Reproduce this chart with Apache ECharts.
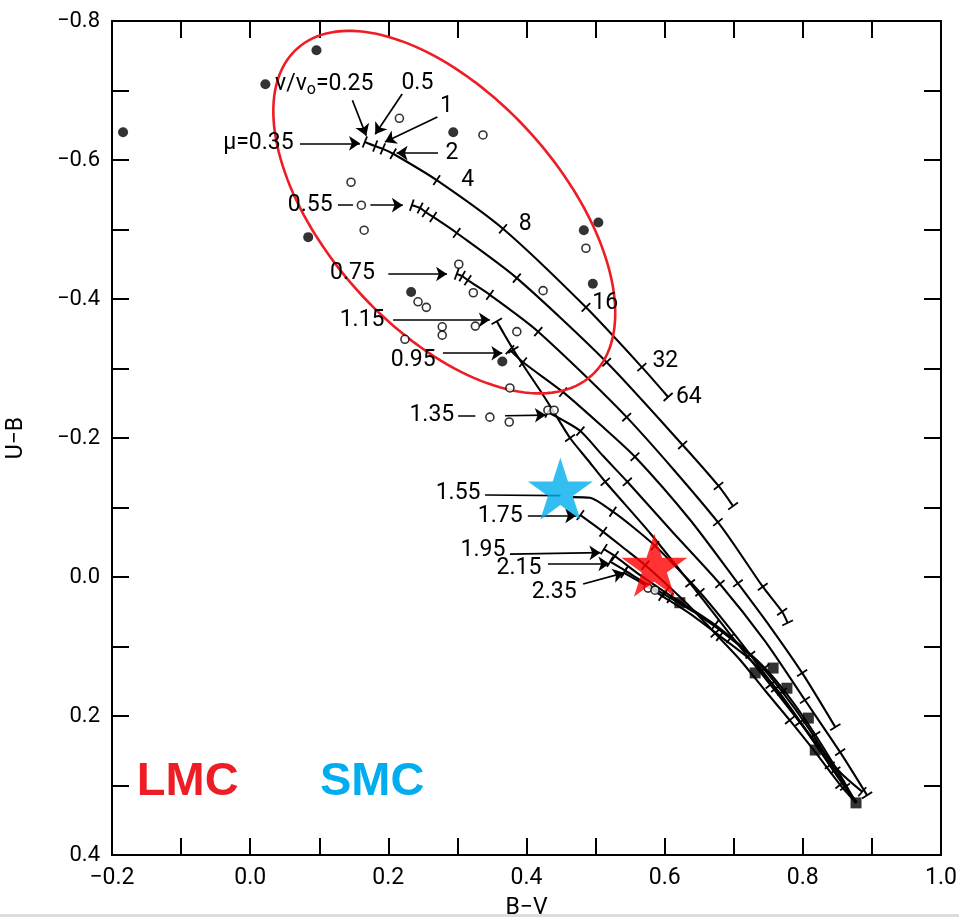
<!DOCTYPE html>
<html>
<head>
<meta charset="utf-8">
<script src="https://cdn.jsdelivr.net/npm/echarts@6/dist/echarts.min.js"></script>
<style>
  html, body { margin: 0; padding: 0; background: #fff; }
  #chart { width: 959px; height: 917px; }
</style>
</head>
<body>
<div id="chart"></div>
<script>
// Two-colour diagram (U−B against B−V): model tracks for several μ values,
// ticked at ν/ν0 = 0.25 … 64, with cluster observations.

const xTickValues = [-0.2, 0.0, 0.2, 0.4, 0.6, 0.8, 1.0];
const xTickLabels = ['−0.2', '0.0', '0.2', '0.4', '0.6', '0.8', '1.0'];
const yTickValues = [-0.8, -0.6, -0.4, -0.2, 0.0, 0.2, 0.4];
const yTickLabels = ['−0.8', '−0.6', '−0.4', '−0.2', '0.0', '0.2', '0.4'];

// Model tracks: [B−V, U−B] nodes, and which nodes carry a ν/ν0 tick
const track035 = [[0.166,-0.626],[0.181,-0.620],[0.192,-0.616],[0.207,-0.609],[0.270,-0.571],[0.366,-0.501],[0.486,-0.388],[0.567,-0.302],[0.605,-0.259]];
const track035Ticks = [0,1,2,3,4,5,6,7,8];
const track055 = [[0.234,-0.535],[0.246,-0.531],[0.254,-0.525],[0.265,-0.518],[0.299,-0.495],[0.386,-0.430],[0.516,-0.309],[0.626,-0.190],[0.678,-0.131],[0.699,-0.102]];
const track055Ticks = [0,1,2,3,4,5,6,7,8,9];
const track075 = [[0.299,-0.436],[0.307,-0.433],[0.315,-0.427],[0.347,-0.406],[0.417,-0.353],[0.545,-0.230],[0.677,-0.079],[0.742,0.014],[0.770,0.050],[0.778,0.066]];
const track075Ticks = [0,1,2,3,4,5,6,7,8,9];
const track095 = [[0.376,-0.327],[0.395,-0.309],[0.453,-0.266],[0.507,-0.219],[0.557,-0.173],[0.637,-0.082],[0.706,0.009],[0.753,0.072],[0.799,0.138],[0.847,0.216]];
const track095Ticks = [0,1,2,4,6,8,9];
const track115 = [[0.357,-0.368],[0.369,-0.347],[0.381,-0.327],[0.401,-0.296],[0.420,-0.268],[0.438,-0.240],[0.463,-0.200],[0.489,-0.168],[0.514,-0.137],[0.579,-0.063],[0.637,0.009],[0.695,0.083],[0.753,0.155],[0.810,0.227],[0.854,0.281],[0.886,0.309]];
const track115Ticks = [0,2,6,8,10,12,15];
const track135 = [[0.431,-0.237],[0.452,-0.226],[0.478,-0.210],[0.511,-0.174],[0.546,-0.137],[0.611,-0.065],[0.680,0.010],[0.745,0.092],[0.803,0.177],[0.854,0.252],[0.893,0.314]];
const track135Ticks = [0,2,4,6,8,9,10];
const track155 = [[0.467,-0.115],[0.492,-0.114],[0.525,-0.094],[0.554,-0.072],[0.586,-0.045],[0.618,-0.013],[0.651,0.022],[0.687,0.065],[0.724,0.112],[0.760,0.160],[0.796,0.209],[0.832,0.260],[0.861,0.302],[0.878,0.324]];
const track155Ticks = [2,4,6,8,10,12];
const track175 = [[0.478,-0.089],[0.511,-0.065],[0.543,-0.040],[0.572,-0.017],[0.601,0.009],[0.637,0.043],[0.673,0.081],[0.709,0.119],[0.745,0.163],[0.781,0.206],[0.818,0.252],[0.854,0.299],[0.877,0.325]];
const track175Ticks = [0,1,3,6,9,11];
const track195 = [[0.512,-0.040],[0.528,-0.030],[0.564,-0.003],[0.601,0.022],[0.637,0.045],[0.673,0.069],[0.709,0.098],[0.745,0.131],[0.781,0.174],[0.818,0.227],[0.854,0.285],[0.877,0.325]];
const track195Ticks = [0,1,3,5,7,9];
const track215 = [[0.521,-0.022],[0.543,-0.009],[0.572,0.009],[0.608,0.030],[0.651,0.056],[0.695,0.088],[0.734,0.122],[0.770,0.165],[0.808,0.217],[0.847,0.278],[0.877,0.325]];
const track215Ticks = [0,1,3,5,7,9];
const track235 = [[0.541,-0.006],[0.564,0.007],[0.596,0.027],[0.637,0.053],[0.680,0.085],[0.724,0.119],[0.761,0.160],[0.799,0.212],[0.839,0.271],[0.877,0.325]];
const track235Ticks = [0,2,4,6,8];

// Observed clusters
const filledDots = [[-0.184,-0.640],[0.096,-0.758],[0.022,-0.709],[0.294,-0.640],[0.084,-0.489],[0.483,-0.499],[0.504,-0.510],[0.496,-0.422],[0.233,-0.410],[0.365,-0.310]];
const openCircles = [[0.216,-0.660],[0.337,-0.636],[0.146,-0.568],[0.161,-0.535],[0.165,-0.499],[0.302,-0.450],[0.323,-0.409],[0.243,-0.396],[0.255,-0.388],[0.424,-0.412],[0.326,-0.361],[0.278,-0.360],[0.278,-0.348],[0.224,-0.342],[0.386,-0.353],[0.376,-0.272],[0.347,-0.230],[0.375,-0.223],[0.431,-0.240],[0.440,-0.240],[0.486,-0.473],[0.576,0.016],[0.586,0.019]];
const filledSquares = [[0.622,0.037],[0.731,0.138],[0.757,0.131],[0.777,0.160],[0.808,0.203],[0.818,0.249],[0.877,0.325]];

// Highlighted objects
const smcStar = [0.449, -0.127];
const lmcStar = [0.585, -0.017];
const regionCentre = [0.281, -0.525];

const tracks = [track035, track055, track075, track095, track115, track135,
                track155, track175, track195, track215, track235];
const trackTicks = [track035Ticks, track055Ticks, track075Ticks, track095Ticks, track115Ticks, track135Ticks,
                    track155Ticks, track175Ticks, track195Ticks, track215Ticks, track235Ticks];

// Pointer arrows from the annotations to the track starts
const arrows = [
  [[0.148,-0.686],[0.168,-0.635]],
  [[0.220,-0.695],[0.181,-0.637]],
  [[0.271,-0.662],[0.195,-0.626]],
  [[0.272,-0.610],[0.212,-0.610]],
  [[0.072,-0.624],[0.159,-0.624]],
  [[0.174,-0.535],[0.221,-0.535]],
  [[0.200,-0.436],[0.285,-0.436]],
  [[0.207,-0.370],[0.347,-0.370]],
  [[0.279,-0.322],[0.365,-0.322]],
  [[0.369,-0.232],[0.428,-0.233]],
  [[0.402,-0.088],[0.472,-0.088]],
  [[0.376,-0.033],[0.507,-0.035]],
  [[0.431,-0.019],[0.520,-0.019]],
  [[0.482,0.010],[0.541,-0.006]]
];
const leaders = [
  [[0.127,-0.535],[0.149,-0.535]],
  [[0.301,-0.232],[0.326,-0.232]],
  [[0.340,-0.118],[0.449,-0.117]]
];

// Annotation texts and their anchors
const notes = [
  { text: '{a|ν/ν}{s|o}{a|=0.25}', at: [0.036,-0.709], align: 'left' },
  { text: '0.5', at: [0.242,-0.711] },
  { text: '1', at: [0.284,-0.678] },
  { text: '2', at: [0.292,-0.610] },
  { text: '4', at: [0.315,-0.571] },
  { text: '8', at: [0.398,-0.508] },
  { text: '16', at: [0.514,-0.394] },
  { text: '32', at: [0.601,-0.311] },
  { text: '64', at: [0.635,-0.259] },
  { text: 'μ=0.35', at: [0.012,-0.624] },
  { text: '0.55', at: [0.087,-0.535] },
  { text: '0.75', at: [0.148,-0.437] },
  { text: '1.15', at: [0.162,-0.370] },
  { text: '0.95', at: [0.236,-0.312] },
  { text: '1.35', at: [0.263,-0.233] },
  { text: '1.55', at: [0.301,-0.121] },
  { text: '1.75', at: [0.362,-0.088] },
  { text: '1.95', at: [0.337,-0.039] },
  { text: '2.15', at: [0.389,-0.013] },
  { text: '2.35', at: [0.440,0.022] }
];
const cloudNames = [
  { text: 'LMC', at: [-0.164, 0.295], color: '#ee1c24' },
  { text: 'SMC', at: [0.101, 0.295], color: '#00aeef' }
];

const INK = '#000';
const FONT = 'Roboto, "DejaVu Sans", sans-serif';
const STAR = 'path://M0,-100 L22.45,-30.9 L95.1,-30.9 L36.3,11.8 L58.8,80.9 L0,38.2 L-58.8,80.9 L-36.3,11.8 L-95.1,-30.9 L-22.45,-30.9 Z';

function tickFormatter(values, labels) {
  return function (v) {
    for (let i = 0; i < values.length; i++) {
      if (Math.abs(v - values[i]) < 1e-6) return labels[i];
    }
    return '';
  };
}

function frameAxis(extra) {
  return Object.assign({
    type: 'value',
    interval: 0.1,
    axisLine: { show: true, onZero: false, lineStyle: { color: INK, width: 2 } },
    axisTick: { show: true, inside: true, length: 17, lineStyle: { color: INK, width: 2 } },
    splitLine: { show: false }
  }, extra);
}

// tick marks across each track, perpendicular to the local direction
const tickData = [];
tracks.forEach(function (pts, t) {
  trackTicks[t].forEach(function (i) {
    const a = pts[Math.max(i - 1, 0)];
    const b = pts[Math.min(i + 1, pts.length - 1)];
    tickData.push([pts[i][0], pts[i][1], a[0], a[1], b[0], b[1]]);
  });
});

const series = [];

// region outline
series.push({
  type: 'custom',
  coordinateSystem: 'cartesian2d',
  data: [regionCentre],
  z: 4,
  silent: true,
  renderItem: function (params, api) {
    const c = api.coord([api.value(0), api.value(1)]);
    const a = 220, b = 117, th = 48 * Math.PI / 180;
    const points = [];
    for (let k = 0; k <= 160; k++) {
      const t = 2 * Math.PI * k / 160;
      const ex = a * Math.cos(t), ey = b * Math.sin(t);
      points.push([c[0] + ex * Math.cos(th) - ey * Math.sin(th),
                   c[1] + ex * Math.sin(th) + ey * Math.cos(th)]);
    }
    return { type: 'polyline', shape: { points: points },
             style: { fill: null, stroke: '#ee1c24', lineWidth: 2.6 } };
  }
});

tracks.forEach(function (pts) {
  series.push({
    type: 'line',
    data: pts,
    smooth: 0.25,
    showSymbol: false,
    symbol: 'none',
    z: 3,
    lineStyle: { color: INK, width: 2.1 },
    silent: true
  });
});

series.push({
  type: 'custom',
  coordinateSystem: 'cartesian2d',
  data: tickData,
  z: 3,
  silent: true,
  renderItem: function (params, api) {
    const p = api.coord([api.value(0), api.value(1)]);
    const a = api.coord([api.value(2), api.value(3)]);
    const b = api.coord([api.value(4), api.value(5)]);
    const dx = b[0] - a[0], dy = b[1] - a[1];
    const L = Math.hypot(dx, dy) || 1;
    const nx = -dy / L, ny = dx / L, h = 6;
    return { type: 'line',
             shape: { x1: p[0] - nx * h, y1: p[1] - ny * h, x2: p[0] + nx * h, y2: p[1] + ny * h },
             style: { stroke: INK, lineWidth: 1.8 } };
  }
});

series.push({
  type: 'lines',
  coordinateSystem: 'cartesian2d',
  data: arrows.map(function (c) { return { coords: c }; }),
  symbol: ['none', 'arrow'],
  symbolSize: [8, 11],
  z: 5,
  silent: true,
  lineStyle: { color: INK, width: 1.7, opacity: 1 }
});
series.push({
  type: 'lines',
  coordinateSystem: 'cartesian2d',
  data: leaders.map(function (c) { return { coords: c }; }),
  symbol: 'none',
  z: 5,
  silent: true,
  lineStyle: { color: INK, width: 1.7, opacity: 1 }
});

series.push({
  type: 'scatter', data: filledDots, symbol: 'circle', symbolSize: 10, z: 6, silent: true,
  itemStyle: { color: INK }
});
series.push({
  type: 'scatter', data: openCircles, symbol: 'circle', symbolSize: 8, z: 6, silent: true,
  itemStyle: { color: '#fff', borderColor: INK, borderWidth: 1.6 }
});
series.push({
  type: 'scatter', data: filledSquares, symbol: 'rect', symbolSize: 11, z: 6, silent: true,
  itemStyle: { color: INK }
});

series.push({
  type: 'custom',
  coordinateSystem: 'cartesian2d',
  data: notes.map(function (n, i) { return [n.at[0], n.at[1], i]; }),
  z: 7,
  silent: true,
  renderItem: function (params, api) {
    const n = notes[api.value(2)];
    const p = api.coord([api.value(0), api.value(1)]);
    return { type: 'text', x: p[0], y: p[1],
             style: { text: n.text, fill: INK, font: '23px ' + FONT,
                      align: n.align || 'center', verticalAlign: 'middle',
                      rich: { a: { fontSize: 23, fontFamily: FONT, color: INK },
                              s: { fontSize: 16, fontFamily: FONT, color: INK, padding: [12, 0, 0, 0] } } } };
  }
});

series.push({
  type: 'custom',
  coordinateSystem: 'cartesian2d',
  data: cloudNames.map(function (n, i) { return [n.at[0], n.at[1], i]; }),
  z: 8,
  silent: true,
  renderItem: function (params, api) {
    const n = cloudNames[api.value(2)];
    const p = api.coord([api.value(0), api.value(1)]);
    return { type: 'text', x: p[0], y: p[1],
             style: { text: n.text, fill: n.color,
                      font: 'bold 47px "Liberation Sans", Arial, sans-serif',
                      align: 'left', verticalAlign: 'middle' } };
  }
});

series.push({
  type: 'scatter', data: [smcStar], symbol: STAR, symbolSize: [65, 62], z: 9, silent: true,
  itemStyle: { color: '#00aeef' }
});
series.push({
  type: 'scatter', data: [lmcStar], symbol: STAR, symbolSize: [66, 63], z: 9, silent: true,
  itemStyle: { color: '#ff0000' }
});

const chart = echarts.init(document.getElementById('chart'), null, { renderer: 'canvas' });
chart.setOption({
  animation: false,
  backgroundColor: '#fff',
  grid: { left: 112, right: 18, top: 21, bottom: 62, containLabel: false, outerBoundsMode: 'none' },
  xAxis: [
    frameAxis({
      min: -0.2, max: 1.0, position: 'bottom',
      axisLabel: { formatter: tickFormatter(xTickValues, xTickLabels), fontSize: 23, fontFamily: FONT, color: INK, margin: 12 },
      name: 'B−V', nameLocation: 'middle', nameGap: 42,
      nameTextStyle: { fontSize: 23, fontFamily: FONT, color: INK }
    }),
    frameAxis({ min: -0.2, max: 1.0, position: 'top', axisLabel: { show: false } })
  ],
  yAxis: [
    frameAxis({
      min: -0.8, max: 0.4, inverse: true, position: 'left',
      axisLabel: { formatter: tickFormatter(yTickValues, yTickLabels), fontSize: 22, fontFamily: FONT, color: INK, margin: 12 },
      name: 'U−B', nameLocation: 'middle', nameGap: 84, nameRotate: 90,
      nameTextStyle: { fontSize: 23, fontFamily: FONT, color: INK }
    }),
    frameAxis({ min: -0.8, max: 0.4, inverse: true, position: 'right', axisLabel: { show: false } })
  ],
  graphic: [
    { type: 'rect', shape: { x: 0, y: 914, width: 959, height: 3 }, style: { fill: '#dcdcdc' }, z: 100 }
  ],
  series: series
});
</script>
</body>
</html>
